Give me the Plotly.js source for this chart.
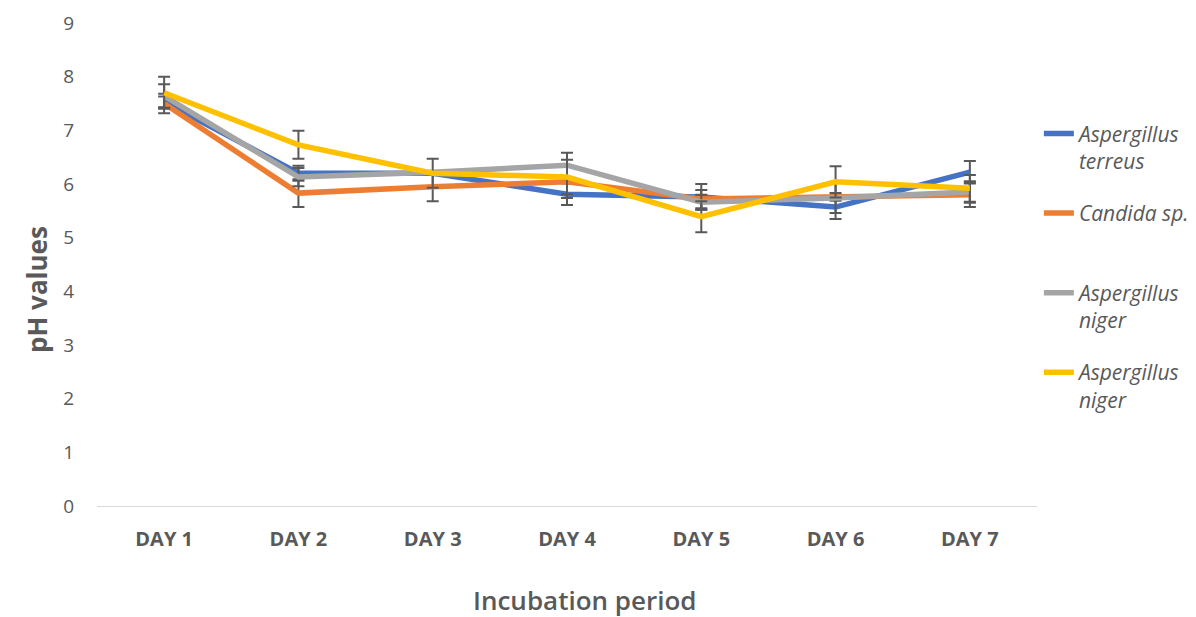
<!DOCTYPE html>
<html>
<head>
<meta charset="utf-8">
<script src="https://cdn.plot.ly/plotly-3.0.1.min.js"></script>
<style>html,body{margin:0;padding:0;background:#fff;}#chart{width:1196px;height:617px;}</style>
</head>
<body>
<div id="chart"></div>
<script>
var days = ["DAY 1", "DAY 2", "DAY 3", "DAY 4", "DAY 5", "DAY 6", "DAY 7"];

var names = ["Aspergillus<br>terreus", "Candida sp.<br> ", "Aspergillus<br>niger", "Aspergillus<br>niger"];

var xTitle = "Incubation period";
var yTitle = "pH values";

var terreus = [7.53, 6.20, 6.20, 5.81, 5.76, 5.57, 6.22];
var terreusErr = [0.10, 0.14, 0.02, 0.20, 0.24, 0.22, 0.21];

var candida = [7.50, 5.83, 5.95, 6.04, 5.72, 5.76, 5.80];
var candidaErr = [0.18, 0.26, 0.27, 0.30, 0.17, 0.07, 0.23];

var nigerA = [7.64, 6.13, 6.22, 6.35, 5.66, 5.74, 5.85];
var nigerAErr = [0.22, 0.17, 0.02, 0.23, 0.14, 0.28, 0.20];

var nigerB = [7.70, 6.73, 6.20, 6.13, 5.39, 6.04, 5.92];
var nigerBErr = [0.30, 0.26, 0.27, 0.32, 0.29, 0.29, 0.25];

var colors = ["#4472C4", "#ED7D31", "#A5A5A5", "#FFC000"];
var series = [terreus, candida, nigerA, nigerB];
var errs = [terreusErr, candidaErr, nigerAErr, nigerBErr];

var traces = series.map(function (s, i) {
  return {
    x: days,
    y: s,
    type: "scatter",
    mode: "lines",
    name: names[i],
    legendgroup: "g" + i,
    line: {color: colors[i], width: 5.5},
    error_y: {type: "data", array: errs[i], visible: true, color: "#595959", thickness: 2, width: 6}
  };
});

var fam = "'Open Sans', 'Noto Sans', sans-serif";

var layout = {
  width: 1196,
  height: 617,
  margin: {l: 97, r: 159, t: 23, b: 111, autoexpand: false},
  paper_bgcolor: "#ffffff",
  plot_bgcolor: "#ffffff",
  font: {family: fam, color: "#595959"},
  showlegend: true,
  legend: {
    x: 1.002, xanchor: "left", y: 0.813, yanchor: "top",
    valign: "top",
    traceorder: "grouped",
    tracegroupgap: 22,
    font: {size: 21, color: "#595959", family: fam, style: "italic"},
    bgcolor: "rgba(0,0,0,0)"
  },
  xaxis: {
    type: "category",
    range: [-0.5, 6.5],
    showgrid: false,
    showline: true,
    linecolor: "#D9D9D9",
    linewidth: 1,
    zeroline: false,
    ticks: "",
    ticklabelstandoff: 15,
    tickfont: {size: 20, color: "#595959", weight: "bold"}
  },
  yaxis: {
    range: [0, 9],
    dtick: 1,
    showgrid: false,
    showline: false,
    zeroline: false,
    ticks: "",
    ticklabelstandoff: 22,
    tickfont: {size: 19, color: "#595959"}
  },
  annotations: [
    {text: xTitle, xref: "paper", yref: "paper", x: (585 - 97) / 940, y: -(600 - 506) / 483,
     xanchor: "center", yanchor: "middle", showarrow: false,
     font: {size: 26, color: "#595959", weight: 600, family: fam}},
    {text: yTitle, xref: "paper", yref: "paper", x: -(97 - 37) / 940, y: (506 - 290) / 483,
     xanchor: "center", yanchor: "middle", showarrow: false, textangle: -90,
     font: {size: 26, color: "#595959", weight: "bold", family: fam}}
  ]
};

Plotly.newPlot("chart", traces, layout, {displayModeBar: false, staticPlot: true});
</script>
</body>
</html>
